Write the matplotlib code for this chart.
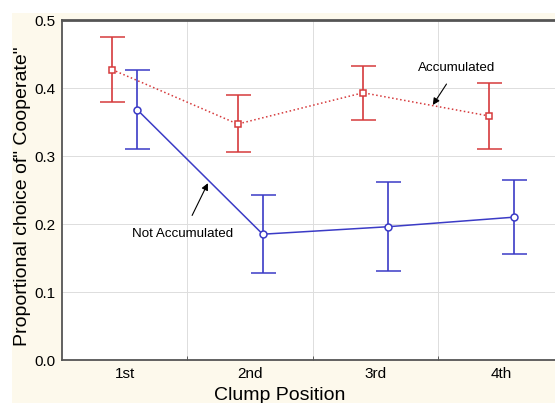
import numpy as np
import matplotlib.pyplot as plt
from matplotlib.patches import Rectangle

plt.rcParams['font.family'] = ['Liberation Sans', 'DejaVu Sans']

positions = ["1st", "2nd", "3rd", "4th"]

acc_mean = [0.427, 0.347, 0.393, 0.359]
acc_low = [0.380, 0.306, 0.353, 0.310]
acc_high = [0.475, 0.390, 0.432, 0.407]

notacc_mean = [0.368, 0.185, 0.196, 0.210]
notacc_low = [0.310, 0.128, 0.131, 0.156]
notacc_high = [0.426, 0.243, 0.262, 0.265]

red = "#d63a3c"
blue = "#3b3bc6"

fig = plt.figure(figsize=(5.55, 4.03), dpi=100)
fig.patch.set_facecolor("white")
# cream page background
fig.patches.append(Rectangle((12 / 555, 0), 1, 1 - 13 / 403, transform=fig.transFigure,
                             facecolor="#fdf9ec", edgecolor="none", zorder=-10))

ax = fig.add_axes([62 / 555, 1 - 360 / 403, 1 - 62 / 555, (360 - 20) / 403])
ax.set_facecolor("white")

x = np.arange(len(positions)) + 0.5
off = 0.1

acc_m = np.array(acc_mean)
acc_err = [acc_m - np.array(acc_low), np.array(acc_high) - acc_m]
ax.errorbar(x - off, acc_m, yerr=acc_err, color=red, ls=":", lw=1.1,
            elinewidth=1.2, capsize=9, capthick=1.2,
            marker="s", ms=5, mfc="white", mec=red, mew=1.1, zorder=3)

na_m = np.array(notacc_mean)
na_err = [na_m - np.array(notacc_low), np.array(notacc_high) - na_m]
ax.errorbar(x + off, na_m, yerr=na_err, color=blue, ls="-", lw=1.1,
            elinewidth=1.2, capsize=9, capthick=1.2,
            marker="o", ms=5, mfc="white", mec=blue, mew=1.1, zorder=3)

ax.set_xlim(0, 3.93)
ax.set_ylim(0, 0.5)
ax.set_yticks([0.0, 0.1, 0.2, 0.3, 0.4, 0.5])
ax.set_yticklabels(["0.0", "0.1", "0.2", "0.3", "0.4", "0.5"], fontsize=11)
ax.set_xticks(x)
ax.set_xticklabels(positions, fontsize=11)
ax.tick_params(axis="x", length=0, pad=5)
ax.tick_params(axis="y", length=0, pad=5)
ax.set_xticks([1, 2, 3], minor=True)
ax.tick_params(axis="x", which="minor", direction="in", length=3, color="#444444")

ax.grid(True, which="minor", axis="x", color="#dddddd", lw=0.7)
ax.grid(True, which="major", axis="y", color="#dddddd", lw=0.7)
ax.set_axisbelow(True)

for s in ["left", "bottom", "top"]:
    ax.spines[s].set_color("#555555")
    ax.spines[s].set_linewidth(1.3)
ax.spines["top"].set_linewidth(2)
ax.spines["right"].set_visible(False)

ax.set_xlabel("Clump Position", fontsize=14)
ax.set_ylabel("Proportional choice of\" Cooperate\"", fontsize=14)
ax.xaxis.set_label_coords(0.442, -0.079)
ax.yaxis.set_label_coords(-0.063, 0.482)

ax.annotate("Accumulated", xy=(2.956, 0.375), xytext=(3.147, 0.429),
            ha="center", va="center", fontsize=9.6,
            arrowprops=dict(arrowstyle="-|>", color="black", lw=0.8,
                            mutation_scale=10, shrinkA=6, shrinkB=0))
ax.annotate("Not Accumulated", xy=(1.163, 0.260), xytext=(0.964, 0.185),
            ha="center", va="center", fontsize=9.6,
            arrowprops=dict(arrowstyle="-|>", color="black", lw=0.8,
                            mutation_scale=10, shrinkA=8, shrinkB=0))

fig.savefig("out.png", dpi=100, facecolor=fig.get_facecolor())
